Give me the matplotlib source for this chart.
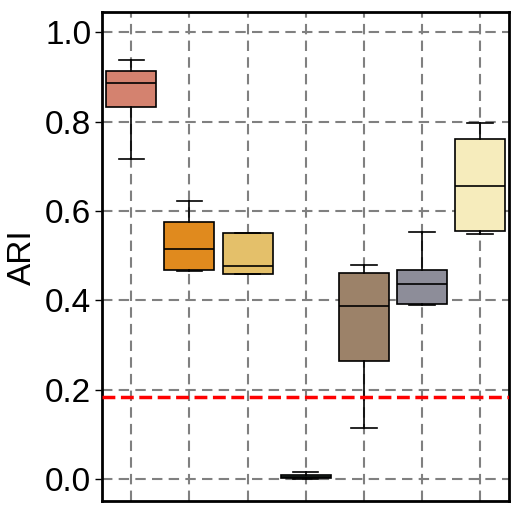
import numpy as np
import matplotlib
matplotlib.use("Agg")
import matplotlib.pyplot as plt

plt.rcParams['font.family'] = ['Liberation Sans', 'DejaVu Sans']

# box statistics
methods = ['m1', 'm2', 'm3', 'm4', 'm5', 'm6', 'm7']
whislo = [0.716, 0.466, 0.458, 0.001, 0.115, 0.390, 0.548]
q1 = [0.832, 0.469, 0.459, 0.002, 0.264, 0.391, 0.556]
med = [0.887, 0.516, 0.476, 0.005, 0.387, 0.436, 0.655]
q3 = [0.914, 0.576, 0.550, 0.009, 0.462, 0.467, 0.761]
whishi = [0.939, 0.622, 0.550, 0.016, 0.479, 0.553, 0.796]
colors = ['#D4826F', '#E08A1E', '#E4C06A', '#5E7D6E', '#9C8269', '#8D8D99', '#F6ECBC']
baseline = 0.183

stats = []
for i, m in enumerate(methods):
    stats.append(dict(label=m, whislo=whislo[i], q1=q1[i], med=med[i],
                      q3=q3[i], whishi=whishi[i], fliers=[]))

fig = plt.figure(figsize=(5.19, 5.11), dpi=100)
ax = fig.add_axes([0.197, 0.019, 0.784, 0.957])

bp = ax.bxp(stats, positions=np.arange(len(methods)), widths=0.86,
            patch_artist=True, showfliers=False,
            boxprops=dict(edgecolor='black', linewidth=1.2),
            medianprops=dict(color='black', linewidth=1.2),
            whiskerprops=dict(color='black', linewidth=1.2),
            capprops=dict(color='black', linewidth=1.2),
            capwidths=0.44)
for patch, c in zip(bp['boxes'], colors):
    patch.set_facecolor(c)
    patch.set_zorder(3)
for k in ['medians', 'whiskers', 'caps']:
    for ln in bp[k]:
        ln.set_zorder(3)

ax.axhline(baseline, color='red', linestyle='--', linewidth=2.5, zorder=4)

ax.set_xlim(-0.5, len(methods) - 0.5)
ax.set_ylim(-0.05, 1.045)
ax.set_yticks([0.0, 0.2, 0.4, 0.6, 0.8, 1.0])
ax.set_yticklabels(['0.0', '0.2', '0.4', '0.6', '0.8', '1.0'])
ax.set_xticks(np.arange(len(methods)))
ax.set_xticklabels([])
ax.tick_params(axis='x', length=0)
ax.tick_params(axis='y', labelsize=24, length=5, width=1, pad=3)
ax.set_ylabel('ARI', fontsize=24, labelpad=5)
ax.grid(True, color='gray', linestyle='--', linewidth=1.5, dashes=(5, 3))
ax.set_axisbelow(True)
for s in ax.spines.values():
    s.set_linewidth(2)

fig.savefig('out.png', dpi=100)
